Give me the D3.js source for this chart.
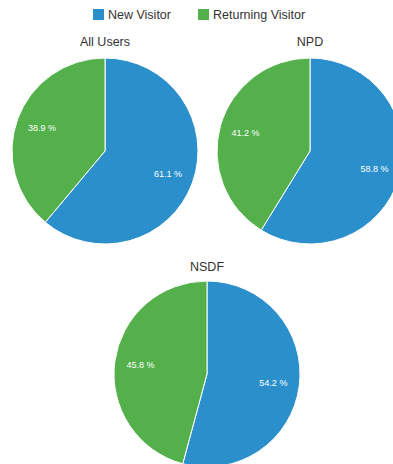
<!DOCTYPE html>
<html>
<head>
<meta charset="utf-8">
<script src="https://cdn.jsdelivr.net/npm/d3@7"></script>
<style>
  html, body { margin: 0; padding: 0; background: #fff; overflow: hidden; }
  svg { display: block; font-family: Arial, "Liberation Sans", sans-serif; }
</style>
</head>
<body>
<svg id="chart" width="393" height="464"></svg>
<script>
// Visitor type share per user group
const groups = ["All Users", "NPD", "NSDF"];
const visitorTypes = ["New Visitor", "Returning Visitor"];
const newVisitor = [61.1, 58.8, 54.2];
const returningVisitor = [38.9, 41.2, 45.8];
const colors = ["#2b8fcb", "#53b04b"];

const svg = d3.select("#chart");
const W = 393, H = 464;

// Legend
const legend = svg.append("g");
const legendItems = [
  { x: 93, label: visitorTypes[0], color: colors[0] },
  { x: 198, label: visitorTypes[1], color: colors[1] }
];
legendItems.forEach(it => {
  legend.append("rect").attr("x", it.x).attr("y", 9).attr("width", 11).attr("height", 11).attr("fill", it.color);
  legend.append("text").attr("x", it.x + 15).attr("y", 19)
    .attr("font-size", 12.5).attr("fill", "#333").text(it.label);
});

// Pie layout positions
const layout = [
  { cx: 105, cy: 151, ty: 46 },
  { cx: 310, cy: 151, ty: 46 },
  { cx: 207, cy: 374, ty: 271 }
];
const R = 93;

const pie = d3.pie().sort(null).value(d => d.value);
const arc = d3.arc().innerRadius(0).outerRadius(R);
const labelArc = d3.arc().innerRadius(R * 0.72).outerRadius(R * 0.72);

groups.forEach((name, i) => {
  const data = [
    { key: visitorTypes[0], value: newVisitor[i] },
    { key: visitorTypes[1], value: returningVisitor[i] }
  ];
  const L = layout[i];
  const g = svg.append("g").attr("transform", `translate(${L.cx},${L.cy})`);
  const arcs = pie(data);
  g.selectAll("path").data(arcs).enter().append("path")
    .attr("d", arc)
    .attr("fill", (d, j) => colors[j])
    .attr("stroke", "#fff")
    .attr("stroke-width", 1);
  g.selectAll("text.lbl").data(arcs).enter().append("text")
    .attr("class", "lbl")
    .attr("transform", d => `translate(${labelArc.centroid(d)})`)
    .attr("text-anchor", "middle")
    .attr("dy", "0.35em")
    .attr("font-size", 9)
    .attr("fill", "#fff")
    .text(d => d.data.value.toFixed(1) + " %");

  svg.append("text")
    .attr("x", L.cx).attr("y", L.ty)
    .attr("text-anchor", "middle")
    .attr("font-size", 12.5)
    .attr("fill", "#333")
    .text(name);
});
</script>
</body>
</html>
